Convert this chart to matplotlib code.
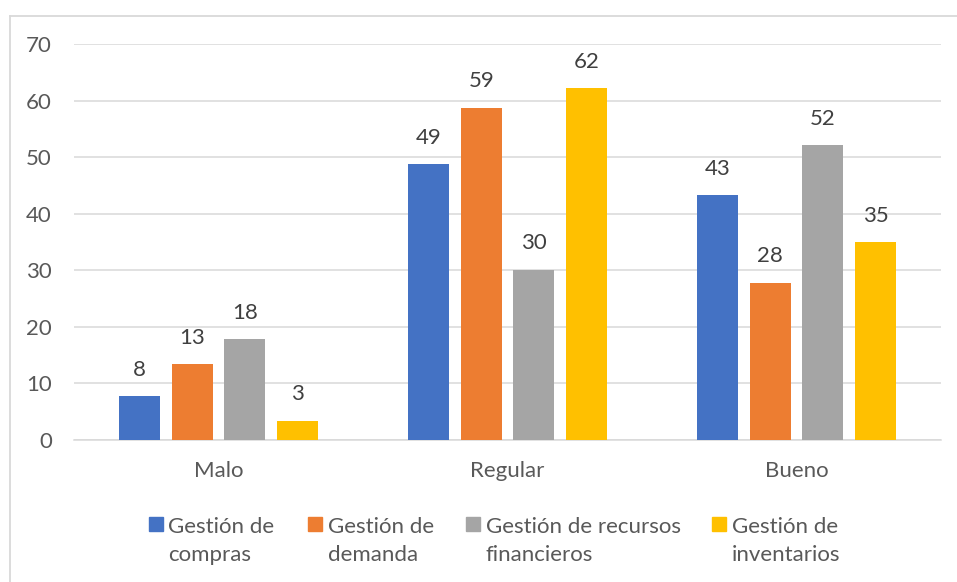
import matplotlib
matplotlib.use("Agg")
from matplotlib import pyplot as plt
from matplotlib.lines import Line2D
from matplotlib.patches import Rectangle
import numpy as np

# data
categories = ["Malo", "Regular", "Bueno"]
series = ["Gestión de\ncompras", "Gestión de\ndemanda",
          "Gestión de recursos\nfinancieros", "Gestión de\ninventarios"]
compras = [7.8, 48.8, 43.3]
demanda = [13.4, 58.8, 27.8]
financieros = [17.8, 30.1, 52.1]
inventarios = [3.4, 62.2, 35.0]
yticks = [0, 10, 20, 30, 40, 50, 60, 70]

values = [compras, demanda, financieros, inventarios]
colors = ["#4472C4", "#ED7D31", "#A5A5A5", "#FFC000"]
txt = "#595959"
fs = 16
W, H = 957, 582

plt.rcParams['font.family'] = ['Lato', 'DejaVu Sans']

fig = plt.figure(figsize=(W/100, H/100), dpi=100)
ax = fig.add_axes([74/W, 1-440/H, (941-74)/W, (440-44.3)/H])

x = np.arange(len(categories))
step, width = 0.182, 0.142
for i, (vals, c) in enumerate(zip(values, colors)):
  pos = x + (i - 1.5)*step
  ax.bar(pos, vals, width, color=c, zorder=3)
  for p, v in zip(pos, vals):
    ax.annotate(f"{v:.0f}", (p, v), xytext=(0, 19), textcoords="offset points",
                ha="center", va="center", fontsize=fs, color="#404040")

ax.set_xlim(-0.5, 2.5)
ax.set_ylim(0, 70)
ax.set_yticks(yticks)
ax.set_xticks(x, categories)
ax.tick_params(length=0, labelsize=fs, labelcolor=txt)
ax.tick_params(axis="y", pad=16)
ax.tick_params(axis="x", pad=15)
ax.grid(axis="y", color="#D9D9D9", linewidth=1.1, zorder=0)
for s in ["top", "right", "left"]:
  ax.spines[s].set_visible(False)
ax.spines["bottom"].set_color("#D9D9D9")
ax.spines["bottom"].set_linewidth(1.1)

# chart border (top and left only visible)
fig.add_artist(Line2D([9.5/W, 1], [1-15.5/H]*2, color="#D9D9D9", linewidth=1.3))
fig.add_artist(Line2D([9.5/W]*2, [0, 1-15.5/H], color="#D9D9D9", linewidth=1.3))

# legend drawn by hand (baseline of the second line)
mark_x = [148.5, 308, 466, 712]
for mx, lab, c in zip(mark_x, series, colors):
  fig.add_artist(Rectangle((mx/W, 1-531/H), 14/W, 14/H, color=c))
  fig.text((mx+20)/W, 1-561/H, lab, ha="left", va="baseline", fontsize=fs,
           color=txt, linespacing=1.5)

fig.savefig("out.png", dpi=100)
